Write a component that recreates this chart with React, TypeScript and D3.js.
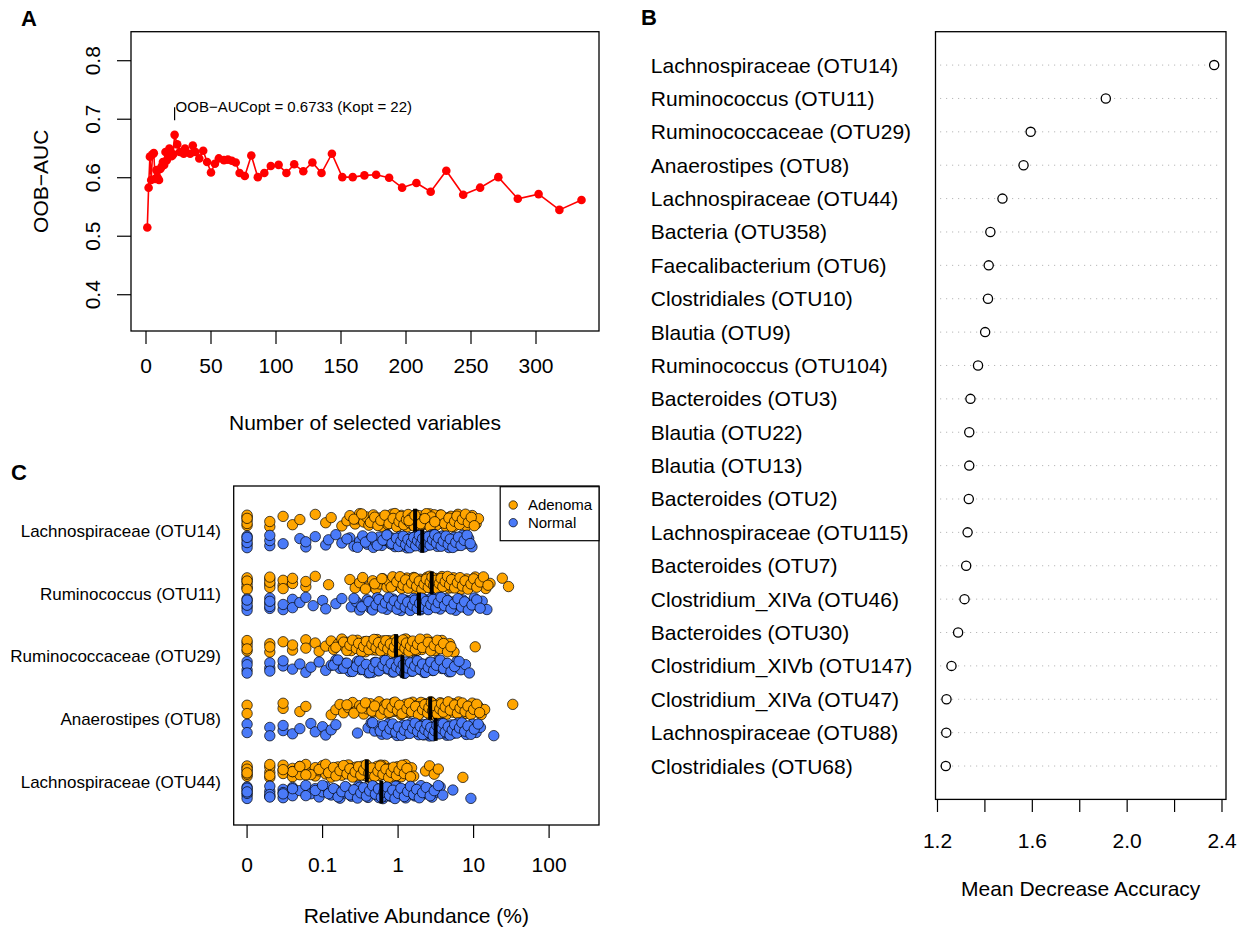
import React from 'react';
import * as d3 from 'd3';

// ---------- Panel A data: OOB-AUC vs number of selected variables ----------
const aucK = [1, 2, 3, 4, 5, 6, 7, 8, 9, 10, 11, 12, 13, 14, 15, 16, 17, 18, 19, 20, 21, 22,
  24, 26, 29, 30, 34, 36, 38, 41, 44, 47, 50, 53, 56, 60, 63, 66, 69, 72, 76, 81, 86, 91, 96,
  102, 108, 114, 121, 128, 135, 143, 151, 159, 168, 177, 187, 197, 208, 219, 231, 244, 257,
  271, 286, 302, 318, 335];
const aucValues = [0.515, 0.583, 0.636, 0.596, 0.64, 0.642, 0.598, 0.613, 0.6, 0.596, 0.615,
  0.619, 0.627, 0.622, 0.644, 0.63, 0.637, 0.65, 0.64, 0.637, 0.64, 0.6733,
  0.657, 0.644, 0.641, 0.65, 0.641, 0.655, 0.644, 0.633, 0.646, 0.627, 0.609, 0.624, 0.633,
  0.63, 0.631, 0.629, 0.626, 0.608, 0.603, 0.638, 0.601, 0.608, 0.62, 0.622, 0.608, 0.623,
  0.611, 0.626, 0.608, 0.641, 0.601, 0.601, 0.604, 0.605, 0.6, 0.583, 0.591, 0.576, 0.612,
  0.571, 0.583, 0.601, 0.564, 0.572, 0.545, 0.562];
const aucXTicks = [0, 50, 100, 150, 200, 250, 300];
const aucYTicks = [0.4, 0.5, 0.6, 0.7, 0.8];
const kOpt = 22;
const aucOpt = 0.6733;

// ---------- Panel B data: variable importance ----------
const impNames = ['Lachnospiraceae (OTU14)', 'Ruminococcus (OTU11)', 'Ruminococcaceae (OTU29)',
  'Anaerostipes (OTU8)', 'Lachnospiraceae (OTU44)', 'Bacteria (OTU358)', 'Faecalibacterium (OTU6)',
  'Clostridiales (OTU10)', 'Blautia (OTU9)', 'Ruminococcus (OTU104)', 'Bacteroides (OTU3)',
  'Blautia (OTU22)', 'Blautia (OTU13)', 'Bacteroides (OTU2)', 'Lachnospiraceae (OTU115)',
  'Bacteroides (OTU7)', 'Clostridium_XIVa (OTU46)', 'Bacteroides (OTU30)',
  'Clostridium_XIVb (OTU147)', 'Clostridium_XIVa (OTU47)', 'Lachnospiraceae (OTU88)',
  'Clostridiales (OTU68)'];
const impValues = [2.367, 1.91, 1.593, 1.563, 1.474, 1.423, 1.416, 1.413, 1.401, 1.371, 1.339,
  1.334, 1.334, 1.332, 1.327, 1.321, 1.314, 1.287, 1.259, 1.238, 1.237, 1.235];
const impTicks = [1.2, 1.4, 1.6, 1.8, 2.0, 2.2, 2.4];
const impTickLabels = ['1.2', '', '1.6', '', '2.0', '', '2.4'];

// ---------- Panel C data: relative abundance (%) ----------
const otuNames = ['Lachnospiraceae (OTU14)', 'Ruminococcus (OTU11)', 'Ruminococcaceae (OTU29)',
  'Anaerostipes (OTU8)', 'Lachnospiraceae (OTU44)'];
const adenomaOTU14 = [0, 0, 0, 0, 0, 0, 0.01, 0.01, 0.02, 0.03, 0.04, 0.07, 0.1, 0.12, 0.17, 0.2,
  0.22, 0.26, 0.28, 0.3, 0.34, 0.37, 0.4, 0.45, 0.46, 0.5, 0.56, 0.6, 0.62, 0.7, 0.72, 0.78, 0.82,
  0.9, 0.93, 1.0, 1.05, 1.1, 1.2, 1.22, 1.3, 1.4, 1.45, 1.55, 1.6, 1.7, 1.8, 1.85, 1.95, 2.1, 2.2,
  2.3, 2.5, 2.6, 2.8, 2.9, 3.1, 3.3, 3.6, 3.8, 4.0, 4.3, 4.6, 5.0, 5.3, 5.8, 6.2, 6.8, 7.4, 8.0,
  8.9, 9.6, 10.8, 11.6, 0.9, 1.25, 1.5, 2.0, 2.4, 3.0, 3.5, 4.4, 5.5, 1.15, 1.75, 2.7,
  0.25, 0.32, 0.42, 0.48, 0.53, 0.58, 0.66, 0.75, 0.85, 0.95, 1.02, 1.08, 1.18, 1.28, 1.35, 1.42,
  1.52, 1.62, 1.72, 1.9, 2.05, 2.15, 2.35, 2.55, 2.75, 3.2, 3.45, 3.7, 4.1, 4.7, 5.1, 5.6, 6.0,
  6.5, 7.1, 7.8, 8.5, 9.3, 10.2, 1.38, 1.66, 1.98, 2.25, 2.65, 3.05];
const normalOTU14 = [0, 0, 0, 0, 0, 0, 0.01, 0.01, 0.01, 0.02, 0.04, 0.05, 0.05, 0.07, 0.1, 0.11,
  0.14, 0.17, 0.22, 0.25, 0.3, 0.33, 0.38, 0.42, 0.46, 0.5, 0.55, 0.6, 0.66, 0.72, 0.78, 0.85, 0.9,
  0.98, 1.05, 1.12, 1.2, 1.3, 1.38, 1.45, 1.55, 1.65, 1.75, 1.85, 1.95, 2.05, 2.15, 2.3, 2.45, 2.6,
  2.75, 2.9, 3.1, 3.3, 3.5, 3.8, 4.1, 4.4, 4.7, 5.1, 5.5, 6.0, 6.5, 7.1, 7.8, 8.6, 9.5, 1.5, 1.9,
  2.2, 2.5, 3.0, 3.6, 4.2, 1.1, 1.7, 2.8, 0.8,
  0.2, 0.28, 0.36, 0.44, 0.52, 0.62, 0.7, 0.82, 0.94, 1.0, 1.08, 1.16, 1.25, 1.34, 1.42, 1.5, 1.6,
  1.7, 1.8, 1.9, 2.0, 2.1, 2.2, 2.35, 2.5, 2.65, 2.85, 3.05, 3.2, 3.4, 3.7, 3.95, 4.3, 4.6, 4.9,
  5.3, 5.8, 6.3, 6.8, 7.5, 8.2, 9.0];
const adenomaOTU11 = [0, 0, 0, 0, 0, 0, 0, 0.01, 0.01, 0.01, 0.01, 0.01, 0.02, 0.02, 0.02, 0.03,
  0.03, 0.05, 0.05, 0.07, 0.11, 0.22, 0.26, 0.3, 0.33, 0.41, 0.45, 0.5, 0.56, 0.62, 0.7, 0.76,
  0.84, 0.92, 1.0, 1.1, 1.2, 1.3, 1.4, 1.55, 1.7, 1.8, 1.95, 2.1, 2.25, 2.4, 2.55, 2.7, 2.85, 3.0,
  3.2, 3.4, 3.6, 3.8, 4.1, 4.4, 4.7, 5.0, 5.4, 5.8, 6.3, 6.8, 7.4, 8.1, 8.8, 9.6, 10.5, 11.5,
  12.8, 14.5, 16.5, 24, 29, 2.0, 2.6, 3.3, 4.0, 5.2, 6.0, 1.6, 3.7, 2.9,
  0.36, 0.48, 0.6, 0.8, 0.95, 1.05, 1.15, 1.25, 1.35, 1.5, 1.65, 1.75, 1.9, 2.05, 2.2, 2.35, 2.5,
  2.65, 2.8, 2.95, 3.1, 3.3, 3.5, 3.7, 3.9, 4.2, 4.5, 4.8, 5.1, 5.6, 6.1, 6.6, 7.1, 7.7, 8.4, 9.2,
  10.0, 11.0, 12.2, 13.5, 15.5];
const normalOTU11 = [0, 0, 0, 0, 0, 0, 0.01, 0.01, 0.01, 0.01, 0.01, 0.02, 0.02, 0.03, 0.03, 0.04,
  0.05, 0.065, 0.09, 0.1, 0.14, 0.17, 0.23, 0.27, 0.3, 0.34, 0.38, 0.42, 0.47, 0.52, 0.58, 0.64,
  0.7, 0.77, 0.85, 0.92, 1.0, 1.08, 1.18, 1.28, 1.38, 1.5, 1.6, 1.72, 1.85, 1.98, 2.1, 2.25, 2.4,
  2.6, 2.8, 3.0, 3.3, 3.6, 3.9, 4.3, 4.7, 5.2, 5.8, 6.5, 7.2, 8.0, 9.0, 10.2, 11.5, 13, 15, 1.4,
  1.9, 2.3, 2.9, 3.5, 4.5, 1.2, 2.0, 0.8,
  0.25, 0.32, 0.4, 0.45, 0.5, 0.55, 0.61, 0.67, 0.74, 0.81, 0.88, 0.96, 1.04, 1.13, 1.23, 1.33,
  1.44, 1.55, 1.66, 1.78, 1.92, 2.05, 2.18, 2.35, 2.5, 2.7, 2.9, 3.15, 3.4, 3.7, 4.1, 4.5, 5.0,
  5.5, 6.2, 6.9, 7.6, 8.5, 9.5, 11.0, 12.2];
const adenomaOTU29 = [0, 0, 0, 0, 0, 0.01, 0.01, 0.01, 0.02, 0.03, 0.03, 0.05, 0.05, 0.07, 0.08,
  0.1, 0.12, 0.13, 0.15, 0.17, 0.19, 0.21, 0.23, 0.25, 0.28, 0.3, 0.33, 0.36, 0.39, 0.42, 0.45,
  0.48, 0.52, 0.56, 0.6, 0.65, 0.7, 0.75, 0.8, 0.86, 0.92, 0.98, 1.05, 1.12, 1.2, 1.3, 1.4, 1.5,
  1.62, 1.75, 1.9, 2.05, 2.2, 2.4, 2.6, 2.85, 3.1, 3.4, 3.8, 4.2, 4.8, 5.5, 10.5, 0.35, 0.5, 0.7,
  0.9, 1.1, 1.35, 1.7, 2.3, 0.62, 0.82, 1.0, 1.25,
  0.14, 0.18, 0.2, 0.22, 0.24, 0.27, 0.29, 0.32, 0.34, 0.37, 0.4, 0.44, 0.47, 0.5, 0.54, 0.58,
  0.63, 0.68, 0.72, 0.78, 0.84, 0.88, 0.95, 1.02, 1.08, 1.15, 1.22, 1.28, 1.38, 1.45, 1.55, 1.68,
  1.8, 1.95, 2.1, 2.5, 2.7, 3.0, 3.3, 3.6, 4.0, 4.5, 5.0];
const normalOTU29 = [0, 0, 0, 0, 0.01, 0.01, 0.01, 0.02, 0.02, 0.03, 0.04, 0.05, 0.06, 0.08, 0.1,
  0.12, 0.14, 0.16, 0.19, 0.22, 0.25, 0.28, 0.31, 0.35, 0.39, 0.43, 0.48, 0.53, 0.58, 0.64, 0.7,
  0.76, 0.83, 0.9, 0.98, 1.05, 1.12, 1.2, 1.3, 1.4, 1.5, 1.6, 1.75, 1.9, 2.05, 2.2, 2.4, 2.6,
  2.85, 3.1, 3.4, 3.8, 4.2, 4.7, 5.3, 6.0, 6.8, 7.8, 8.8, 0.6, 0.85, 1.1, 1.35, 1.7, 2.3, 3.0,
  0.45, 1.0, 1.25, 1.55,
  0.13, 0.15, 0.18, 0.2, 0.24, 0.27, 0.3, 0.33, 0.37, 0.41, 0.46, 0.5, 0.55, 0.62, 0.67, 0.73,
  0.8, 0.87, 0.94, 1.02, 1.08, 1.16, 1.22, 1.32, 1.45, 1.55, 1.65, 1.8, 1.95, 2.1, 2.3, 2.5, 2.7,
  2.95, 3.2, 3.6, 4.0, 4.5, 5.0, 5.6, 6.4];
const adenomaOTU8 = [0, 0, 0.02, 0.02, 0.04, 0.05, 0.12, 0.14, 0.16, 0.18, 0.21, 0.24, 0.27, 0.3,
  0.34, 0.38, 0.42, 0.46, 0.5, 0.55, 0.6, 0.66, 0.72, 0.78, 0.85, 0.92, 1.0, 1.08, 1.16, 1.25,
  1.35, 1.45, 1.55, 1.65, 1.78, 1.9, 2.05, 2.2, 2.35, 2.5, 2.65, 2.8, 3.0, 3.2, 3.4, 3.6, 3.85,
  4.1, 4.4, 4.7, 5.0, 5.4, 5.8, 6.3, 6.8, 7.4, 8.0, 8.8, 9.6, 10.5, 11.5, 12.6, 14, 33, 1.2, 1.6,
  2.0, 2.4, 2.9, 3.5, 4.3, 5.2, 0.8, 1.9, 2.7, 3.1,
  0.2, 0.25, 0.32, 0.36, 0.44, 0.48, 0.58, 0.64, 0.7, 0.75, 0.82, 0.9, 0.97, 1.04, 1.12, 1.3, 1.4,
  1.5, 1.7, 1.85, 2.1, 2.25, 2.45, 2.55, 2.75, 2.85, 3.05, 3.3, 3.55, 3.75, 3.95, 4.2, 4.6, 4.9,
  5.6, 6.1, 6.6, 7.1, 7.7, 8.4, 9.2, 10.0, 11.0, 12.0];
const normalOTU8 = [0, 0, 0.01, 0.01, 0.02, 0.02, 0.03, 0.04, 0.06, 0.07, 0.09, 0.1, 0.12, 0.14,
  0.28, 0.39, 0.43, 0.48, 0.54, 0.6, 0.66, 0.73, 0.8, 0.88, 0.96, 1.05, 1.15, 1.25, 1.36, 1.48,
  1.6, 1.73, 1.87, 2.0, 2.15, 2.3, 2.45, 2.6, 2.8, 3.0, 3.2, 3.4, 3.6, 3.85, 4.1, 4.4, 4.7, 5.0,
  5.4, 5.8, 6.2, 6.7, 7.3, 8.0, 8.8, 9.7, 10.8, 12.3, 18.5, 1.4, 1.9, 2.5, 3.1, 3.7, 4.5, 5.5,
  2.2, 2.9, 3.3, 4.0, 6.0,
  0.45, 0.57, 0.63, 0.7, 0.77, 0.84, 0.92, 1.0, 1.1, 1.2, 1.3, 1.42, 1.55, 1.67, 1.8, 1.95, 2.1,
  2.25, 2.4, 2.55, 2.7, 2.9, 3.05, 3.25, 3.5, 3.75, 3.95, 4.2, 4.6, 4.85, 5.2, 5.6, 6.0, 6.5, 7.0,
  7.6, 8.4, 9.2, 10.2, 11.5];
const adenomaOTU44 = [0, 0, 0, 0, 0, 0, 0.01, 0.01, 0.01, 0.01, 0.02, 0.02, 0.02, 0.03, 0.03,
  0.03, 0.04, 0.04, 0.05, 0.05, 0.06, 0.07, 0.07, 0.08, 0.09, 0.1, 0.11, 0.12, 0.14, 0.15, 0.17,
  0.19, 0.21, 0.23, 0.25, 0.28, 0.3, 0.33, 0.36, 0.39, 0.42, 0.46, 0.5, 0.55, 0.6, 0.65, 0.7,
  0.76, 0.83, 0.9, 0.98, 1.07, 1.16, 1.25, 1.35, 1.5, 1.6, 2.3, 2.6, 3.0, 3.4, 7.2, 0.2, 0.27,
  0.35, 0.45, 0.58, 0.72, 0.88, 1.1, 0.32, 0.52,
  0.06, 0.08, 0.1, 0.11, 0.13, 0.14, 0.16, 0.18, 0.2, 0.22, 0.24, 0.26, 0.29, 0.31, 0.34, 0.37,
  0.4, 0.44, 0.48, 0.53, 0.57, 0.62, 0.68, 0.74, 0.8, 0.86, 0.94, 1.02, 1.12, 1.2, 1.3, 1.45, 0.03,
  0.04, 0.05, 0.02, 0.01, 0];
const normalOTU44 = [0, 0, 0, 0, 0, 0, 0.01, 0.01, 0.01, 0.01, 0.02, 0.02, 0.02, 0.03, 0.03,
  0.04, 0.05, 0.06, 0.07, 0.08, 0.09, 0.1, 0.12, 0.14, 0.16, 0.18, 0.2, 0.23, 0.26, 0.29, 0.32,
  0.35, 0.39, 0.43, 0.47, 0.52, 0.57, 0.62, 0.68, 0.74, 0.8, 0.88, 0.96, 1.05, 1.15, 1.25, 1.38,
  1.5, 1.65, 1.8, 2.0, 2.2, 2.5, 2.8, 3.2, 3.6, 3.9, 5.3, 9.2, 0.4, 0.5, 0.65, 0.78, 0.92, 1.1,
  1.3, 0.55, 0.72, 0.3,
  0.05, 0.07, 0.09, 0.11, 0.13, 0.15, 0.17, 0.19, 0.22, 0.25, 0.28, 0.31, 0.34, 0.37, 0.41, 0.45,
  0.49, 0.54, 0.59, 0.64, 0.7, 0.76, 0.84, 0.9, 1.0, 1.08, 1.2, 1.33, 1.45, 1.6, 1.75, 1.9, 2.1,
  2.35, 2.65, 3.0, 3.4, 0.02, 0.03, 0.01, 0];
const adenomaValues = [adenomaOTU14, adenomaOTU11, adenomaOTU29, adenomaOTU8, adenomaOTU44];
const normalValues = [normalOTU14, normalOTU11, normalOTU29, normalOTU8, normalOTU44];
const medianAdenoma = [1.67, 2.78, 0.93, 2.65, 0.375];
const medianNormal = [2.08, 1.88, 1.13, 3.13, 0.59];
const abundTicks = [0.01, 0.1, 1, 10, 100];
const abundTickLabels = ['0', '0.1', '1', '10', '100'];
const groupNames = ['Adenoma', 'Normal'];
const groupColors = ['#FFA500', '#4A7AF8'];

const FONT = '"Liberation Sans", Arial, Helvetica, sans-serif';
const jitter = (i: number) => ((i * 0.6180339887 + 0.27) % 1) - 0.5;

export default function App() {
  // Panel A scales
  const xA = d3.scaleLinear().domain([-11.54, 348.46]).range([131, 599]);
  const yA = d3.scaleLinear().domain([0.338, 0.8496]).range([331, 31.7]);
  const aucPts = aucK.map((k, i) => [k, aucValues[i]] as [number, number]);
  const lineA = d3.line<[number, number]>().x(d => xA(d[0])).y(d => yA(d[1]));

  // Panel B scales
  const xB = d3.scaleLinear().domain([1.1916, 2.4169]).range([935.5, 1226]);
  const yB = d3.scaleLinear().domain([0, 23]).range([31.7, 799.4]);

  // Panel C scales
  const xC = d3.scaleLog().domain([0.00665, 458]).range([233.7, 599]);
  const yC = d3.scaleLinear().domain([-0.718, 4.689]).range([486, 825]);
  const offA = -0.172, offN = 0.163;

  return (
    <svg width={1244} height={930} style={{ position: 'absolute', left: 0, top: 0, background: '#fff' }}
      fontFamily={FONT}>
      <rect x={0} y={0} width={1244} height={930} fill="#fff" />
      {/* Panel labels */}
      <text x={21} y={26} fontSize={22} fontWeight="bold">A</text>
      <text x={641} y={25} fontSize={22} fontWeight="bold">B</text>
      <text x={11} y={480} fontSize={22} fontWeight="bold">C</text>

      {/* ---------------- Panel A ---------------- */}
      <g>
        <path d={lineA(aucPts) || ''} fill="none" stroke="#FF0000" strokeWidth={1.6} />
        {aucPts.map((p, i) => (
          <circle key={i} cx={xA(p[0])} cy={yA(p[1])} r={4.3} fill="#FF0000" />
        ))}
        <line x1={xA(kOpt)} x2={xA(kOpt)} y1={yA(aucOpt + 0.025)} y2={yA(aucOpt + 0.047)} stroke="#000" strokeWidth={1.2} />
        <text x={xA(kOpt) + 1} y={112} fontSize={15}>{`OOB\u2212AUCopt = ${aucOpt.toFixed(4)} (Kopt = ${kOpt})`}</text>
        <rect x={131} y={31.7} width={468} height={299.3} fill="none" stroke="#000" strokeWidth={1.3} />
        {aucXTicks.map(t => (
          <g key={t}>
            <line x1={xA(t)} x2={xA(t)} y1={331} y2={344} stroke="#000" strokeWidth={1.2} />
            <text x={xA(t)} y={373} fontSize={21} textAnchor="middle">{t}</text>
          </g>
        ))}
        {aucYTicks.map(t => (
          <g key={t}>
            <line x1={117} x2={131} y1={yA(t)} y2={yA(t)} stroke="#000" strokeWidth={1.2} />
            <text transform={`translate(100,${yA(t)}) rotate(-90)`} fontSize={21} textAnchor="middle">{t.toFixed(1)}</text>
          </g>
        ))}
        <text x={365} y={430} fontSize={21} textAnchor="middle">Number of selected variables</text>
        <text transform={`translate(48,181.3) rotate(-90)`} fontSize={21} textAnchor="middle">{'OOB\u2212AUC'}</text>
      </g>

      {/* ---------------- Panel B ---------------- */}
      <g>
        {impValues.map((v, i) => (
          <g key={i}>
            <line x1={940} x2={1222} y1={yB(i + 1)} y2={yB(i + 1)} stroke="#b8b8b8" strokeWidth={1} strokeDasharray="1.2,4.8" />
            <circle cx={xB(v)} cy={yB(i + 1)} r={4.6} fill="#fff" stroke="#000" strokeWidth={1.3} />
            <text x={650.8} y={yB(i + 1) + 7.5} fontSize={21}>{impNames[i]}</text>
          </g>
        ))}
        <rect x={935.5} y={31.7} width={290.5} height={767.7} fill="none" stroke="#000" strokeWidth={1.3} />
        {impTicks.map((t, i) => (
          <g key={t}>
            <line x1={xB(t)} x2={xB(t)} y1={799.4} y2={812} stroke="#000" strokeWidth={1.2} />
            {impTickLabels[i] && <text x={xB(t)} y={848} fontSize={21} textAnchor="middle">{impTickLabels[i]}</text>}
          </g>
        ))}
        <text x={1080.7} y={896} fontSize={21} textAnchor="middle">Mean Decrease Accuracy</text>
      </g>

      {/* ---------------- Panel C ---------------- */}
      <g>
        {otuNames.map((name, g) => (
          <g key={name}>
            {adenomaValues[g].map((v, i) => (
              <circle key={'a' + i} cx={xC(v + 0.01)} cy={yC(g + offA) + jitter(i) * 13.5} r={5.2}
                fill={groupColors[0]} stroke="#000" strokeWidth={0.7} />
            ))}
            {normalValues[g].map((v, i) => (
              <circle key={'n' + i} cx={xC(v + 0.01)} cy={yC(g + offN) + jitter(i + 3) * 13.5} r={5.2}
                fill={groupColors[1]} stroke="#000" strokeWidth={0.7} />
            ))}
            <line x1={xC(medianAdenoma[g] + 0.01)} x2={xC(medianAdenoma[g] + 0.01)}
              y1={yC(g + offA) - 11.5} y2={yC(g + offA) + 11.5} stroke="#000" strokeWidth={4} />
            <line x1={xC(medianNormal[g] + 0.01)} x2={xC(medianNormal[g] + 0.01)}
              y1={yC(g + offN) - 11.5} y2={yC(g + offN) + 11.5} stroke="#000" strokeWidth={4} />
            <text x={221} y={yC(g) + 6} fontSize={17} textAnchor="end">{name}</text>
          </g>
        ))}
        <rect x={233.7} y={486} width={365.3} height={339} fill="none" stroke="#000" strokeWidth={1.3} />
        {abundTicks.map((t, i) => (
          <g key={t}>
            <line x1={xC(t)} x2={xC(t)} y1={825} y2={838} stroke="#000" strokeWidth={1.2} />
            <text x={xC(t)} y={872} fontSize={21} textAnchor="middle">{abundTickLabels[i]}</text>
          </g>
        ))}
        <text x={416.3} y={923} fontSize={21} textAnchor="middle">Relative Abundance (%)</text>
        {/* legend */}
        <rect x={500.2} y={486.7} width={98.8} height={54} fill="#fff" stroke="#000" strokeWidth={1.2} />
        {groupNames.map((n, i) => (
          <g key={n}>
            <circle cx={513.2} cy={505 + i * 17.7} r={4.2} fill={groupColors[i]} stroke="#000" strokeWidth={0.7} />
            <text x={527.9} y={505 + i * 17.7 + 5.3} fontSize={15}>{n}</text>
          </g>
        ))}
      </g>
    </svg>
  );
}
